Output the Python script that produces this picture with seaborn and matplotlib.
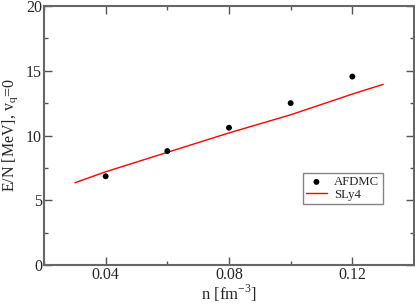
import numpy as np
import pandas as pd
import matplotlib
matplotlib.use('Agg')
import matplotlib.pyplot as plt
import seaborn as sns
from matplotlib.ticker import MultipleLocator

# AFDMC points
afdmc_n = [0.04, 0.06, 0.08, 0.10, 0.12]
afdmc_e = [6.85, 8.8, 10.6, 12.5, 14.55]

# SLy4 curve
sly4_n = [0.03, 0.04, 0.05, 0.06, 0.07, 0.08, 0.09, 0.10, 0.11, 0.12, 0.13]
sly4_e = [6.35, 7.2, 7.95, 8.7, 9.45, 10.2, 10.9, 11.6, 12.4, 13.2, 13.95]

sns.set_style('ticks')
plt.rcParams['font.family'] = ['Liberation Serif', 'DejaVu Serif']
plt.rcParams['mathtext.fontset'] = 'custom'
plt.rcParams['mathtext.rm'] = 'Liberation Serif'

fig = plt.figure(figsize=(4.15, 3.05), dpi=100)
ax = fig.add_axes([44 / 415, 40 / 305, 370 / 415, 259 / 305])

sns.scatterplot(x=afdmc_n, y=afdmc_e, ax=ax, color='black', s=18,
                edgecolor='none', label='AFDMC', zorder=3)
sns.lineplot(x=sly4_n, y=sly4_e, ax=ax, color='red', linewidth=1.0,
             label='SLy4')

ax.set_xlim(0.02, 0.14)
ax.set_ylim(0, 20)
ax.xaxis.set_major_locator(MultipleLocator(0.04))
ax.xaxis.set_minor_locator(MultipleLocator(0.02))
ax.yaxis.set_major_locator(MultipleLocator(5))
ax.yaxis.set_minor_locator(MultipleLocator(2.5))
ax.set_xticks([0.04, 0.08, 0.12])
ax.set_xticklabels(['0.04', '0.08', '0.12'])

ax.tick_params(which='both', direction='in', top=True, right=True,
               color='#555555', labelsize=11.5)
ax.tick_params(which='major', length=6, width=1, pad=1.5)
ax.tick_params(which='minor', length=3, width=1)
for sp in ax.spines.values():
    sp.set_color('#666666')
    sp.set_linewidth(1.5)

ax.set_xlabel('n [fm$^{\\mathrm{-3}}$]', fontsize=12, labelpad=0)
ax.set_ylabel('E/N [MeV], v$_{\\mathrm{q}}$=0', fontsize=11.5, labelpad=0)
ax.yaxis.set_label_coords(-0.064, 0.5)

leg = ax.legend(loc='upper left', bbox_to_anchor=(0.70, 0.355), fontsize=9.2,
                frameon=True, fancybox=False, handlelength=1.6,
                borderpad=0.25, labelspacing=0.05, handletextpad=0.6,
                borderaxespad=0)
leg.get_frame().set_edgecolor('#666666')
leg.get_frame().set_linewidth(1.0)

fig.savefig('out.png', dpi=100)
